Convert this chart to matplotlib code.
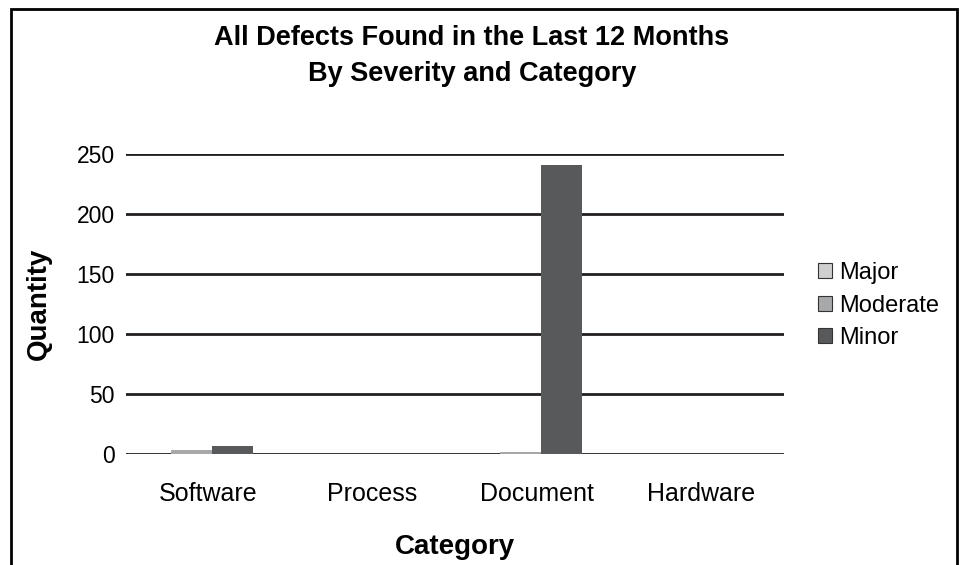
import matplotlib

matplotlib.use("Agg")
import matplotlib.pyplot as plt
import numpy as np
from matplotlib.patches import Rectangle

plt.rcParams["font.family"] = ["Liberation Sans", "DejaVu Sans"]

categories = ["Software", "Process", "Document", "Hardware"]
severities = ["Major", "Moderate", "Minor"]
major = [0, 0, 0, 0]
moderate = [3, 0, 2, 0]
minor = [7, 0, 241, 0]
y_ticks = [0, 50, 100, 150, 200, 250]

SERIES_COLORS = {"Major": "#cfcfd0", "Moderate": "#a7a8aa", "Minor": "#58595b"}


def main() -> None:
    fig = plt.figure(figsize=(9.63, 5.65), dpi=100)
    ax = fig.add_axes([0.1308, 0.1965, 0.683, 0.531])

    x_values = np.arange(len(categories))
    bar_width = 0.25
    series = [major, moderate, minor]
    for index, (name, values) in enumerate(zip(severities, series)):
        positions = x_values + (index - 1) * bar_width - 0.1
        ax.bar(
            positions,
            values,
            bar_width,
            color=SERIES_COLORS[name],
            label=name,
            zorder=3,
        )

    ax.set_xlim(-0.5, len(categories) - 0.5)
    ax.set_ylim(0, 250)
    ax.set_yticks(y_ticks)
    ax.set_xticks(x_values)
    ax.set_xticklabels(categories, fontsize=18)
    ax.tick_params(axis="y", labelsize=16.5, length=0, pad=8)
    ax.tick_params(axis="x", length=0, pad=20)
    for spine in ax.spines.values():
        spine.set_visible(False)
    ax.grid(axis="y", color="#231f20", linewidth=2.0, zorder=1)
    ax.set_axisbelow(True)

    ax.set_xlabel("Category", fontsize=20, fontweight="bold", labelpad=20)
    ax.set_ylabel("Quantity", fontsize=20, fontweight="bold", labelpad=18)

    fig.text(
        0.49,
        0.901,
        "All Defects Found in the Last 12 Months\nBy Severity and Category",
        ha="center",
        va="center",
        fontsize=19.5,
        fontweight="bold",
        linespacing=1.5,
    )

    handles = [
        Rectangle((0, 0), 1, 1, facecolor=SERIES_COLORS[name], edgecolor="#333333", linewidth=0.8)
        for name in severities
    ]
    fig.legend(
        handles,
        severities,
        loc="center left",
        bbox_to_anchor=(0.849, 0.459),
        frameon=False,
        fontsize=17,
        handlelength=0.6,
        handleheight=0.6,
        handletextpad=0.3,
        labelspacing=0.45,
        borderaxespad=0,
        borderpad=0,
    )

    fig.add_artist(
        Rectangle(
            (0.011, -0.05),
            0.983,
            1.034,
            transform=fig.transFigure,
            fill=False,
            edgecolor="black",
            linewidth=2.0,
        )
    )

    fig.savefig("out.png", dpi=100)
    plt.close(fig)


if __name__ == "__main__":
    main()
